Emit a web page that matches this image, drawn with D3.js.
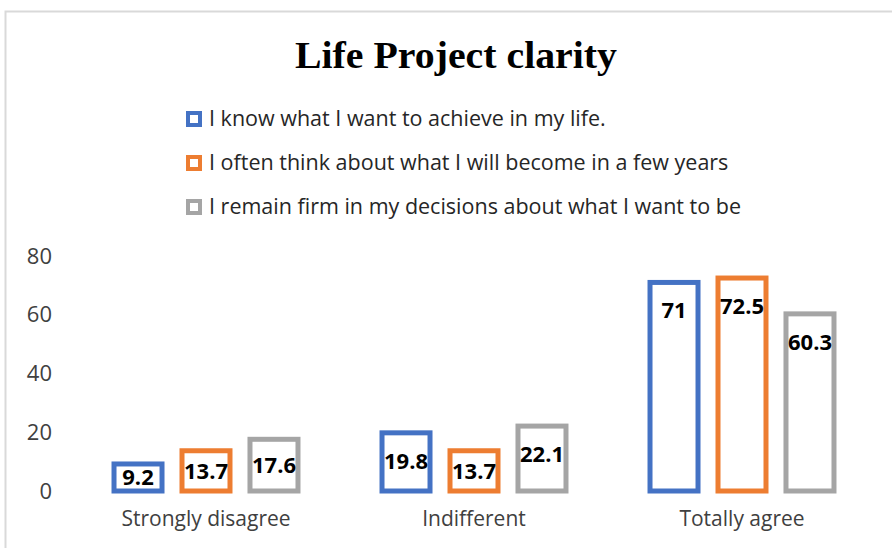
<!DOCTYPE html>
<html>
<head>
<meta charset="utf-8">
<script src="https://cdn.jsdelivr.net/npm/d3@7"></script>
<style>
  body { margin: 0; background: #fff; }
  svg { display: block; }
</style>
</head>
<body>
<svg id="chart" width="892" height="548"></svg>
<script>
var categories = ["Strongly disagree", "Indifferent", "Totally agree"];
var seriesNames = [
  "I know what I want to achieve in my life.",
  "I often think about what I will become in a few years",
  "I remain firm in my decisions about what I want to be"
];
var knowValues = [9.2, 19.8, 71];
var thinkValues = [13.7, 13.7, 72.5];
var firmValues = [17.6, 22.1, 60.3];
var yTicks = [0, 20, 40, 60, 80];
var colors = ["#4472C4", "#ED7D31", "#A5A5A5"];

var seriesValues = [knowValues, thinkValues, firmValues];

var svg = d3.select("#chart");
var cfg = {
  left: 72, right: 876,
  top: 256, bottom: 491,
  stroke: 5
};

// chart frame (only top and left edges show in the picture)
svg.append("path")
  .attr("d", "M5.5,548V11.5H892")
  .attr("fill", "none")
  .attr("stroke", "#d9d9d9")
  .attr("stroke-width", 2);

svg.append("text")
  .attr("x", 456)
  .attr("y", 68)
  .attr("text-anchor", "middle")
  .attr("font-family", "'Liberation Serif', 'Times New Roman', serif")
  .attr("font-weight", "bold")
  .attr("font-size", 38)
  .attr("textLength", 322)
  .attr("lengthAdjust", "spacingAndGlyphs")
  .text("Life Project clarity");

// legend
var legend = svg.append("g");
seriesNames.forEach(function(name, i) {
  var y = 119 + i * 44;
  legend.append("rect")
    .attr("x", 188).attr("y", y - 6)
    .attr("width", 12).attr("height", 12)
    .attr("fill", "#fff")
    .attr("stroke", colors[i])
    .attr("stroke-width", 4);
  legend.append("text")
    .attr("x", 209).attr("y", y + 7)
    .attr("font-family", "'Open Sans', sans-serif")
    .attr("font-size", 21.5)
    .attr("fill", "#262626")
    .text(name);
});

var x0 = d3.scaleBand()
  .domain(categories)
  .range([cfg.left, cfg.right]);

var x1 = d3.scaleBand()
  .domain(d3.range(seriesNames.length))
  .range([0, x0.bandwidth()])
  .paddingInner(0.294)
  .paddingOuter(0.618);

var y = d3.scaleLinear()
  .domain([0, 80])
  .range([cfg.bottom, cfg.top]);

var yAxis = svg.append("g")
  .attr("transform", "translate(56,0)")
  .call(d3.axisLeft(y).tickValues(yTicks).tickSize(0).tickPadding(4));
yAxis.select(".domain").remove();
yAxis.selectAll("text")
  .attr("font-family", "'Open Sans', sans-serif")
  .attr("font-size", 22)
  .attr("fill", "#404040");

var xAxis = svg.append("g")
  .attr("transform", "translate(0," + cfg.bottom + ")")
  .call(d3.axisBottom(x0).tickSize(0).tickPadding(20));
xAxis.select(".domain").remove();
xAxis.selectAll("text")
  .attr("font-family", "'Open Sans', sans-serif")
  .attr("font-size", 21)
  .attr("fill", "#404040");

var groups = svg.selectAll(".grp")
  .data(categories)
  .join("g")
  .attr("class", "grp")
  .attr("transform", function(d) { return "translate(" + x0(d) + ",0)"; });

var bars = groups.selectAll(".bar")
  .data(function(d, ci) {
    return seriesValues.map(function(vals, si) { return { s: si, v: vals[ci] }; });
  })
  .join("g")
  .attr("class", "bar");

bars.append("rect")
  .attr("x", function(d) { return x1(d.s); })
  .attr("y", function(d) { return y(d.v); })
  .attr("width", x1.bandwidth())
  .attr("height", function(d) { return y(0) - y(d.v); })
  .attr("fill", "#fff")
  .attr("stroke", function(d) { return colors[d.s]; })
  .attr("stroke-width", cfg.stroke);

// value labels: near the top of tall bars, centred in short ones
bars.append("text")
  .attr("x", function(d) { return x1(d.s) + x1.bandwidth() / 2; })
  .attr("y", function(d) {
    var top = y(d.v);
    var mid = (top + y(0)) / 2;
    return Math.min(mid, top + 28);
  })
  .attr("dy", "0.36em")
  .attr("text-anchor", "middle")
  .attr("font-family", "'Open Sans', sans-serif")
  .attr("font-weight", "bold")
  .attr("font-size", 22)
  .attr("fill", "#000")
  .text(function(d) { return d.v; });
</script>
</body>
</html>
